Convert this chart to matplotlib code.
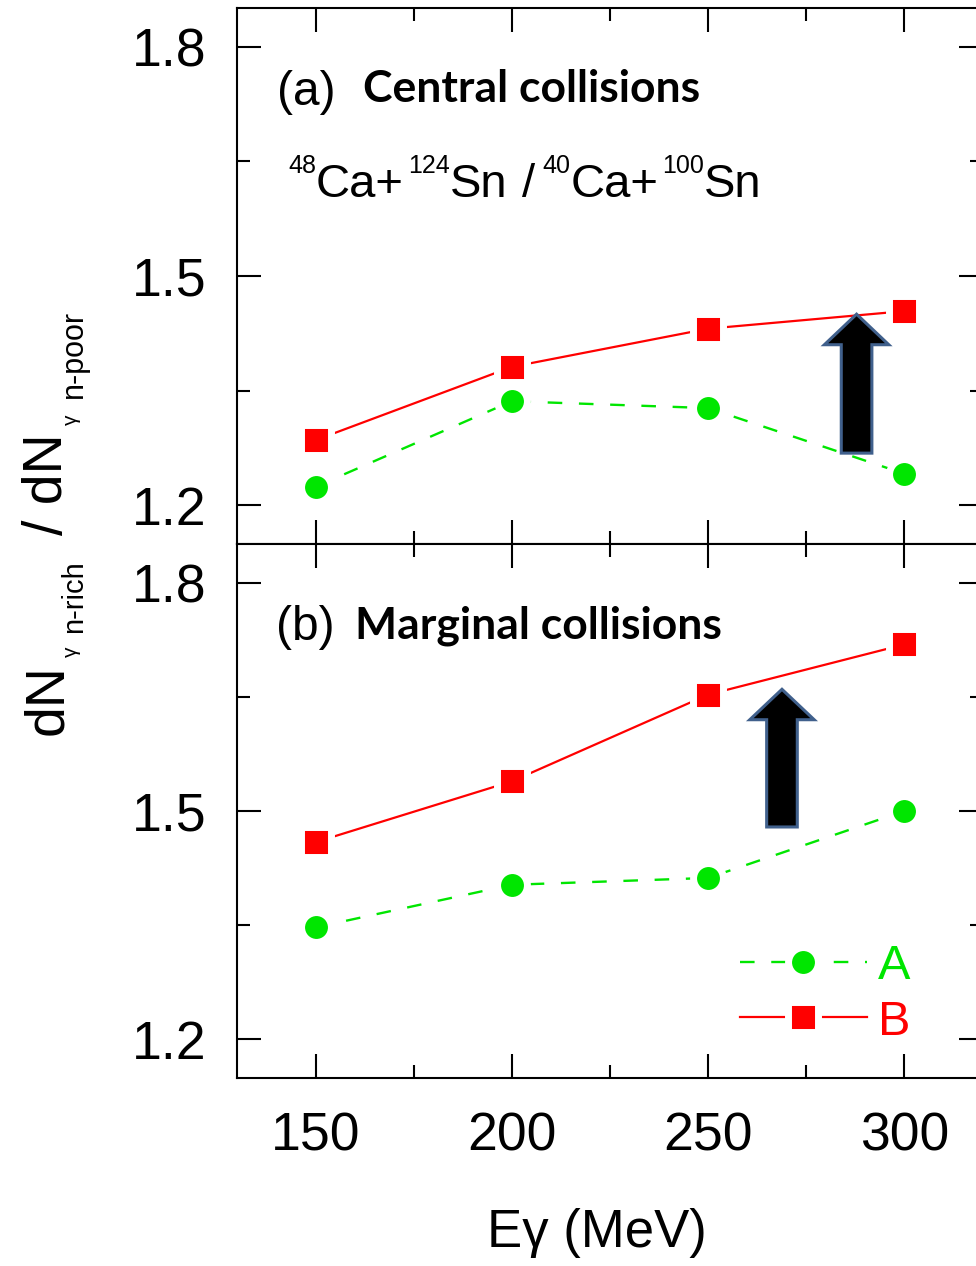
import matplotlib
matplotlib.use("Agg")
import matplotlib.pyplot as plt
from matplotlib.ticker import MultipleLocator, FormatStrFormatter
from matplotlib.patches import FancyArrow

plt.rcParams['font.family'] = ['Liberation Sans', 'DejaVu Sans']
plt.rcParams['lines.scale_dashes'] = False

# ---------------- data ----------------
energy = [150, 200, 250, 300]
central_A = [1.224, 1.336, 1.327, 1.241]
central_B = [1.285, 1.381, 1.431, 1.454]
marginal_A = [1.347, 1.403, 1.412, 1.500]
marginal_B = [1.459, 1.539, 1.653, 1.719]
series_labels = ["A", "B"]
panel_tags = ["(a)", "(b)"]
panel_titles = ["Central collisions", "Marginal collisions"]
# arrows (x position, start, end) in data units
arrow_x = [287.8, 268.8]
arrow_y0 = [1.268, 1.479]
arrow_y1 = [1.450, 1.660]

GREEN = '#00e600'
RED = '#ff0000'
W, H = 976, 1266

fig = plt.figure(figsize=(W / 100, H / 100), dpi=100)
left, right = 237, 983
ax1 = fig.add_axes([left / W, 1 - 544 / H, (right - left) / W, (544 - 8) / H])
ax2 = fig.add_axes([left / W, 1 - 1078 / H, (right - left) / W, (1078 - 544) / H])

for ax in (ax1, ax2):
    ax.set_xlim(130, 320)
    ax.set_ylim(1.149, 1.851)
    ax.xaxis.set_major_locator(MultipleLocator(50))
    ax.xaxis.set_minor_locator(MultipleLocator(25))
    ax.yaxis.set_major_locator(MultipleLocator(0.3))
    ax.yaxis.set_minor_locator(MultipleLocator(0.15))
    ax.yaxis.set_major_formatter(FormatStrFormatter('%.1f'))
    ax.tick_params(which='both', direction='in', top=True, right=True,
                   width=1.5, color='black')
    ax.tick_params(which='major', length=17.5, labelsize=38.5)
    ax.tick_params(which='minor', length=9.5)
    ax.tick_params(axis='y', which='major', pad=22)
    ax.tick_params(axis='x', which='major', pad=24)
    for sp in ax.spines.values():
        sp.set_linewidth(1.5)

ax1.tick_params(labelbottom=False)

mk = dict(ms=21.5, mec='white', mew=5)
datasets = [(ax1, central_A, central_B), (ax2, marginal_A, marginal_B)]
for ax, a_vals, b_vals in datasets:
    ax.plot(energy, a_vals, color=GREEN, lw=1.7, ls='--', dashes=(10.5, 12),
            marker='o', mfc=GREEN, label=series_labels[0], zorder=3, **mk)
    ax.plot(energy, b_vals, color=RED, lw=1.6, ls='-',
            marker='s', mfc=RED, label=series_labels[1], zorder=3, **mk)

for ax, xa, y0, y1 in zip((ax1, ax2), arrow_x, arrow_y0, arrow_y1):
    arr = FancyArrow(xa, y0, 0, y1 - y0, width=7.8, head_width=16.4,
                     head_length=0.040, length_includes_head=True,
                     fc='black', ec='#40608c', lw=2.2, zorder=6)
    ax.add_patch(arr)

leg = ax2.legend(loc='center left', bbox_to_anchor=(0.6743, 0.157),
                 frameon=False, fontsize=35, handlelength=2.61,
                 handletextpad=0.23, labelspacing=0.22, borderpad=0,
                 borderaxespad=0, numpoints=1, labelcolor='linecolor')

# panel labels
tag_pos = [(277, 105, 8, 536), (276, 640, 544, 534)]
title_pos = [(363, 102), (355, 638)]
for ax, tag, title, (tx, ty, top, hh), (bx, by) in zip(
        (ax1, ax2), panel_tags, panel_titles, tag_pos, title_pos):
    ax.text((tx - left) / (right - left), 1 - (ty - top) / hh, tag,
            transform=ax.transAxes, fontsize=34.5, ha='left', va='baseline')
    ax.text((bx - left) / (right - left), 1 - (by - top) / hh, title,
            transform=ax.transAxes, fontsize=32, ha='left', va='baseline',
            family=['Lato', 'DejaVu Sans'], fontweight='bold')


def place(s, x, y_img, size, rot=0):
    return fig.text(x / W, (H - y_img) / H, s, fontsize=size, rotation=rot,
                    rotation_mode='anchor', ha='left', va='baseline')


renderer = fig.canvas.get_renderer()

# reaction formula with superscripts, chained left to right
MAIN, SUP = 34, 18
formula = [("48", 'sup', 0), ("Ca+", 'main', 4), ("124", 'sup', 0),
           ("Sn", 'main', 15), ("/", 'main', 7), ("40", 'sup', 0),
           ("Ca+", 'main', 4), ("100", 'sup', 0), ("Sn", 'main', 0)]
xcur = 288
for s, kind, gap in formula:
    if kind == 'sup':
        t = place(s, xcur, 173, SUP)
    else:
        t = place(s, xcur, 197, MAIN)
    xcur += t.get_window_extent(renderer).width + gap

# y label composed of pieces (rotated), (text, baseline x, start y, size)
ylabel_pieces = [("dN", 62, 735, 40), ("γ", 77, 657, 15), ("n-rich", 82, 633, 21),
                 ("/ dN", 62, 535, 40), ("γ", 77, 425, 15), ("n-poor", 82, 398, 22)]
for s, x, y, size in ylabel_pieces:
    place(s, x, y, size, rot=90)

# x label
place("Eγ (MeV)", 487, 1247, 38)

fig.savefig("out.png", dpi=100)
